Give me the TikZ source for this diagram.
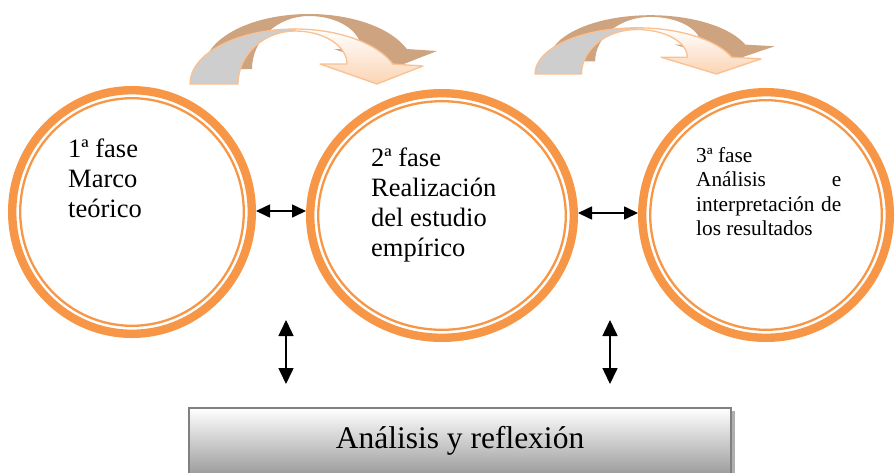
\documentclass[tikz,border=0pt]{standalone}
\usepackage{fontspec}
\setmainfont{Liberation Serif}
\usetikzlibrary{arrows.meta,shapes.geometric,shadows}
\definecolor{ringorange}{RGB}{247,150,70}
\definecolor{arrowedge}{RGB}{250,192,143}
\definecolor{arrowgray}{RGB}{206,206,206}
\definecolor{arrowpeach}{RGB}{251,212,180}
\definecolor{arrowtan}{RGB}{205,163,128}
\definecolor{boxedge}{RGB}{128,128,128}
\definecolor{boxbottom}{RGB}{148,148,148}
\definecolor{boxshadow}{RGB}{175,175,175}
\newcommand\bentarrow[4]{%
  \begin{scope}[shift={(#1,#2)}, xscale=#3, yscale=-#4]
    \fill[arrowtan, shift={(14,15)}] (0,0)
      arc[start angle=180, end angle=21.3, x radius=105, y radius=55]
      -- (233,18) -- (187,0) -- (130,20) -- (157,20)
      arc[start angle=0, end angle=90, x radius=52, y radius=33]
      arc[start angle=90, end angle=180, x radius=57, y radius=53] -- cycle;
    \filldraw[arrowface, fill=arrowgray] (0,0)
      arc[start angle=180, end angle=90, x radius=105, y radius=55]
      -- (105,53) arc[start angle=90, end angle=180, x radius=57, y radius=53] -- cycle;
    \shadedraw[arrowface, top color=white, bottom color=arrowpeach] (105,55)
      arc[start angle=90, end angle=21.3, x radius=105, y radius=55]
      -- (233,18) -- (187,0) -- (130,20) -- (157,20)
      arc[start angle=0, end angle=90, x radius=52, y radius=33] -- cycle;
  \end{scope}}
\tikzset{
  arrowface/.style={draw=arrowedge, line width=1.3pt, line join=round},
  phase/.style={ellipse, draw=ringorange, line width=8.4pt, inner sep=0pt},
  thinring/.style={draw=ringorange, line width=2.3pt},
  phasetext/.style={anchor=base west, align=left, inner sep=0pt, font=\fontsize{26.5}{30}\selectfont},
  smalltext/.style={anchor=base west, align=left, inner sep=0pt, font=\fontsize{21.3}{24.5}\selectfont},
  link/.style={{Triangle[length=14pt,width=13pt]}-{Triangle[length=14pt,width=13pt]}, line width=1.6pt, black},
  vlink/.style={{Triangle[length=16pt,width=15pt]}-{Triangle[length=16pt,width=15pt]}, line width=1.6pt, black},
  bigbox/.style={anchor=base, draw=boxedge, line width=2pt, top color=white, bottom color=boxbottom,
    minimum width=542pt, text height=40pt, text depth=32pt, inner sep=0pt,
    font=\fontsize{31.5}{36}\selectfont,
    drop shadow={shadow xshift=3.5pt, shadow yshift=-3pt, fill=boxshadow, opacity=1}}
}
\begin{document}
\begin{tikzpicture}[x=1pt, y=-1pt]
\useasboundingbox (0,0) rectangle (896,472);
% curved arrows
\bentarrow{190}{84}{1}{1}
\bentarrow{535}{74}{0.97}{0.84}
% phases
\node[phase, minimum width=239.6pt, minimum height=243.6pt] (c1) at (132,212) {};
\draw[thinring] (c1.center) ellipse[x radius=111.8, y radius=113.8];
\node[phase, minimum width=263.6pt, minimum height=244.6pt] (c2) at (442,215.5) {};
\draw[thinring] (c2.center) ellipse[x radius=123.8, y radius=114.3];
\node[phase, minimum width=247.6pt, minimum height=245.6pt] (c3) at (766,215) {};
\draw[thinring] (c3.center) ellipse[x radius=115.8, y radius=114.8];
\node[phasetext] (t1) at (68,217) {1ª fase\\Marco\\teórico};
\node[phasetext] (t2) at (371,256) {2ª fase\\Realización\\del estudio\\empírico};
\node[smalltext] (t3) at (696,235.5) {3ª fase\\\hbox to 145pt{Análisis\hfill e}\\\hbox to 145pt{interpretación\hfill de}\\los resultados};
% links
\draw[link] ([yshift=1pt]c1.east) -- ([yshift=1pt]c1.east -| c2.west);
\draw[link] ([yshift=2.5pt]c2.east) -- ([yshift=2.5pt]c2.east -| c3.west);
% box
\node[bigbox] (box) at (460,448) {Análisis y reflexión};
\coordinate (v1top) at (286,320);
\coordinate (v1bot) at (286,384);
\coordinate (v2top) at (610,320);
\coordinate (v2bot) at (610,384);
\draw[vlink] (v1top) -- (v1bot);
\draw[vlink] (v2top) -- (v2bot);
\end{tikzpicture}
\end{document}
